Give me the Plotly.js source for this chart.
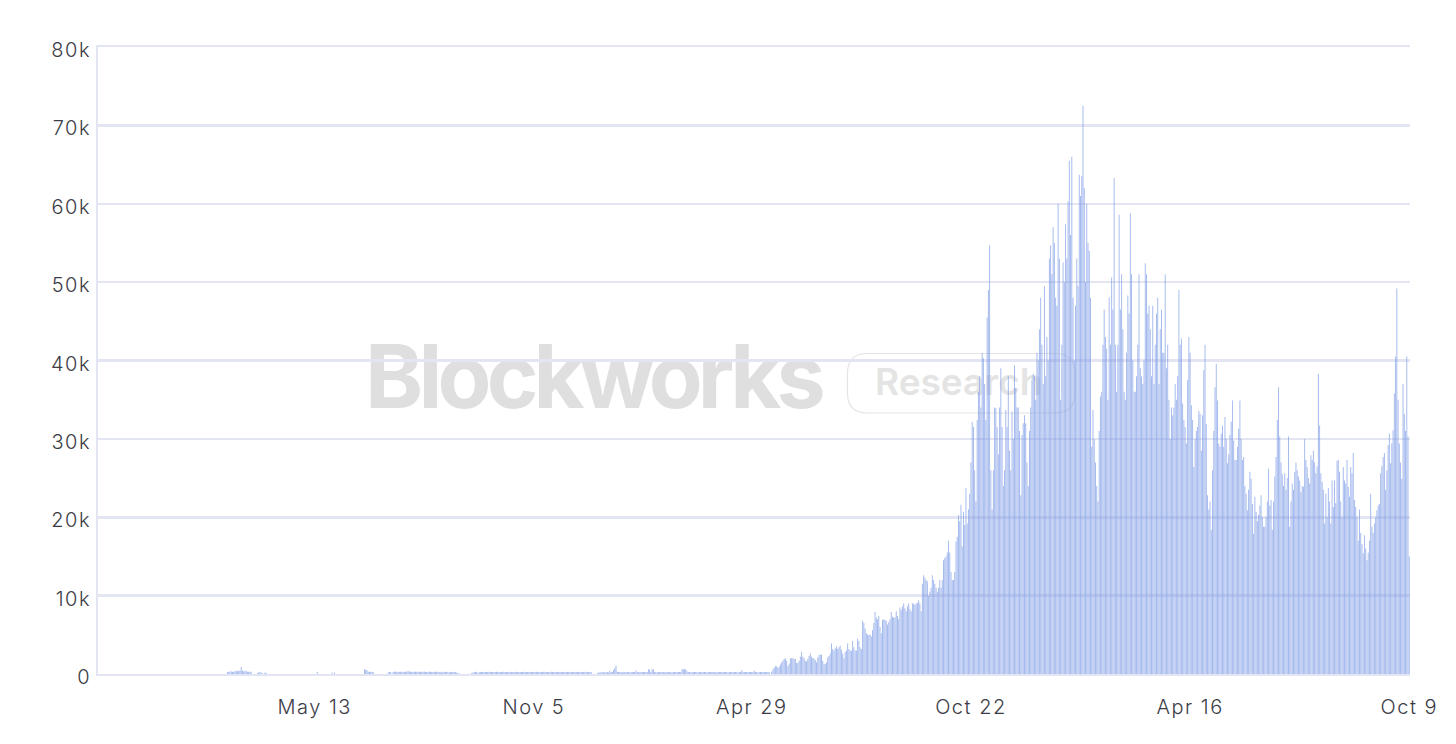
<!DOCTYPE html>
<html><head><meta charset="utf-8">
<style>
html,body{margin:0;padding:0;background:#fff;overflow:hidden}
#chart{width:1456px;height:744px}
.xtick text,.ytick text{letter-spacing:1.5px}
</style>
<script src="https://cdn.plot.ly/plotly-3.0.1.min.js"></script>
</head><body><div id="chart"></div>
<script>
// Daily values in thousands, each list begins on the date named beside it.
const early1Start='2021-03-04';
const early1=[.25,.3,.3,.35,.3,.3,.35,.4,.35,.4,.45,.9,.4,.35,.35,.4,.3,.3,.25,.3];
const early2Start='2021-03-28';
const early2=[.1,.2,.25,.2,.1,0,.15,.15];
const early3Start='2021-05-15';
const early3=[.25];
const early4Start='2021-05-27';
const early4=[.2,0,.2];
const early5Start='2021-06-22';
const early5=[.6,.55,.5,.3,.3,.3,.25,.25];
const early6Start='2021-07-11';
const early6=[.2,.25,.25,0,.25,.3,.3,.3,.25,.3,.3,.3,.25,.3,.3,.3,.4,.3,.3,.3,.25,.3,.3,.3,.3,.25,.3,.3,.25,.3,.3,.25,.25,.3,.3,.25,.25,.3,.25,.3,.3,.25,.2,.25,.3,.25,.25,.3,.25,.2,.25,.25,.3,.25,.25,.2,.1,.1];
const flat1Start='2021-09-16';
const flat1=[.1,.15,.25,.25,.3,.1,.25,.25,.25,.3,.25,.25,.25,.25,.3,.25,.25,.25,.25,.25,.3,.25,.25,.25,.25,.3,.25,.25,.25,.25,.25,.3,.25,.25,.25,.25,.3,.25,.25,.25,.25,.25,.3,.25,.25,.25,.25,.3,.25,.25,.25,.25,.25,.3,.25,.25,.25,.25,.3,.25,.25,.25,.25,.25,.3,.25,.25,.25,.25,.3,.25,.25,.25,.25,.25,.3,.25,.25,.25,.25,.3,.25,.25,.25,.25,.25,.3,.25,.25,.25,.25,.3,.25,.25,.25,.25,.25,0,0];
const flat2Start='2021-12-26';
const flat2=[.1,.2,.2,.25,.2,.25,.2,.25,.25,.2,.4,.25,.25,.5,.75,1.1,.3,.25,.25,.25,.25,.2,.25,.25,.25,.25,.2,.25,.25,.25,.25,.45,.25,.25,.2,.25,.25,.25,.25,.25,.25,.6,.55,.25,.6,.6,.25,.25,.2,.25,.25,.25,.25,.25,.2,.25,.25,.25,.25,.25,.2,.25,.25,.25,.25,.25,.25,.25,.6,.6,.6,.6,.35,.25,.25,.2,.25,.25,.25,.25,.25,.2,.25,.25,.25,.25,.25,.25,.2,.25,.25,.25,.25,.25,.25,.2,.25,.25,.25,.25,.25,.25,.25,.25,.25,.2,.25,.25,.25,.25,.25,.25,.25,.2,.25,.25,.5,.25,.25,.25,.25,.25,.25,.25,.25,.25,.4,.25,.25,.2,.25,.25,.25,.25,.25,.25,.25,.25,.25];
const rise1Start='2022-05-15';
const rise1=[.3,.6,.8,1,1,.8,.9,1.2,1.5,1.7,1.9,2,1.7,1,1.3,2,2,2,1.9,1.9,1.4,1.4,1.7,2.2,2.8,2.2,2,1.7,1.6,1.9,2.3,2.6,2.2,2,2,1.8,1.5,2.1,2.4,2.5,2.5,1.7,1.2,1.3,1.5,2.1,2.3,2.6,3.9,3.2,3,3.3,3.5,3.2,3.4,3.6,3.1,2.6,2,2.8,3,3.9,3.2,3,3,4.2,3.4,3,3,4.5,4.2,3.4,3.2,6.8,6.5,5.8,5.2,5,5,5,4.8,5.6,6.5,7.9,7.2,7,7.4,6,5.2,6.9,7,6.9,6.8,6.3,6.6,7,7.9,7.3,7.2,7.2,8,7.4,7];
const rise2Start='2022-08-26';
const rise2=[8.5,8.2,8.6,9,8.4,8,8.6,9,8.3,8,9,9,8.8,9,9.1,9.4,9,8,11.5,12.6,12.3,12,11.8,10,10.5,11,12.6,12,11.5,11,10.5,11,12,11,12,14.5,14.8,15,15.5,17,15.5,13,12,12,13,16.9,17.5,20.3,19.5,21.6,16.3,20.7,19,23.7,19.2,21,23];
const surge1Start='2022-10-22';
const surge1=[27,32.2,31.5,26,22,32.4,36,38,34,41,40.3,37,32.4,45.5,49,54.7,26,21,26,34,33.9,31.5,28,34,39,31.5,24,26,33.7,31.5,38,28.5,26,33.5,30,39.4,36.5,34,34,31,22.8,30.5,32,33,32,27,24,31,34,37.5,38.3,38,35,41,40,44];
const surge2Start='2022-12-17';
const surge2=[48,42,37,49.5,38,43,40,53,54.7,51,57,55,48,47,60,53,35,42,52.5,50,57.4,53,60.3,65.5,56,66,48,40,47,53,49.5,63.7,61,63.5,72.5,62,50,60,55,54,48,40];
const plateauStart='2023-01-27';
const plateau=[29,33.7,30,27,24,22,31,35.4,36,42,46.5,43,41.5,35,48,42,50.6,46.5,63.3,42,36,42,58.6,46.5,51,44,36,35,41,48.3,46,58.8,51,40,36,36,38,42,51,39,38,37,40,52.4,51,46,47,44,38,47,37,42,46,48,37,44,46.5,41,41,51,39,42,35,30,34,33,34,37,35,38,49,42];
const decayAStart='2023-04-09';
const decayA=[42.8,34.5,32.4,31.5,29.4,37.5,43,41,34.3,32.4,26.4,30,31,31.5,33.6,33.2,28.5,33,38.8,42,31.9,22.8,21,22,18.4,26,31,36.6,39.6,34.9,29.4,29,30.7,31.7,29,32.8,30,26.9,28,30.5,32.2,34.9,29.8,27.3,27.3,29,31.3,34.9,30];
const decayBStart='2023-05-28';
const decayB=[27.3,27.7,24,23,20.9,23.5,25.8,24.9,21.7,17.9,22.6,20.7,19.5,20.3,21.5,22.8,20,18.8,18.8,20,22,26.2,21.5,22.2,18.4,22,25.2,27.7,32.4,36.6,30.3,27,25.5,24,25.6,23.5,25,30.3];
const decayCStart='2023-07-05';
const decayC=[18.8,22,24.3,23.5,25.8,27,26,25.2,24.7,23.2,24,23.9,30,27.3,26.4,25,24.3,27.9,27.3,28.5,27,25.6,26.5,38.3];
const decayDStart='2023-07-29';
const decayD=[31.7,25.6,24.5,23.5,19.2,23,20,23.7,22,19.2,24.7,21.3,24.7,21.8,27.2,27.3,25.8,22,20,26.4,24.7,24.3,27.3,23.9,22.6,26.4,25.6,28.2,22.2,21.3,20,17,21,18,16.6,15.4,17.7,16,14.5,15.5];
const decayEStart='2023-09-07';
const decayE=[17,23,18.8,18,19.2,20,20.9,21.5,21.7,25.6,26.5,27.7,28.2,23.5,26,29.2,30.7,26.9,29.4,31.1,35.8,40.5,49.2,35,29.4,27,24.9,37,33.2,31,40.5,30.3,15];

const xTickVals=['2021-05-13','2021-11-05','2022-04-29','2022-10-22','2023-04-16','2023-10-09'];
const xTickText=['May 13','Nov 5','Apr 29','Oct 22','Apr 16','Oct 9'];
const yTickVals=[0,10000,20000,30000,40000,50000,60000,70000,80000];
const yTickText=['0','10k','20k','30k','40k','50k','60k','70k','80k'];

const segments=[[early1Start,early1],[early2Start,early2],[early3Start,early3],[early4Start,early4],[early5Start,early5],[early6Start,early6],[flat1Start,flat1],[flat2Start,flat2],[rise1Start,rise1],[rise2Start,rise2],[surge1Start,surge1],[surge2Start,surge2],[plateauStart,plateau],[decayAStart,decayA],[decayBStart,decayB],[decayCStart,decayC],[decayDStart,decayD],[decayEStart,decayE]];
const byDay=new Map();
segments.forEach(([start,vals])=>{
  const t0=Date.parse(start+'T00:00:00Z');
  vals.forEach((v,i)=>byDay.set(new Date(t0+i*864e5).toISOString().slice(0,10),v*1000));
});
const xs=[...byDay.keys()].sort();
const ys=xs.map(d=>byDay.get(d));

const W=1456,H=744,L=98,R=1410,T=47,B=674;
const gridColor='#e3e5f2';
const tickFont={family:'Inter, "Open Sans", sans-serif',size:20,color:'#3b3c46',weight:300};
const px=x=>(x-L)/(R-L), py=y=>(B-y)/(B-T);
const roundRect=(x0,y0,x1,y1,r)=>`M ${px(x0+r)} ${py(y0)} L ${px(x1-r)} ${py(y0)} Q ${px(x1)} ${py(y0)} ${px(x1)} ${py(y0+r)} L ${px(x1)} ${py(y1-r)} Q ${px(x1)} ${py(y1)} ${px(x1-r)} ${py(y1)} L ${px(x0+r)} ${py(y1)} Q ${px(x0)} ${py(y1)} ${px(x0)} ${py(y1-r)} L ${px(x0)} ${py(y0+r)} Q ${px(x0)} ${py(y0)} ${px(x0+r)} ${py(y0)} Z`;

Plotly.newPlot('chart',[{
  type:'bar',x:xs,y:ys,
  marker:{color:'rgba(125,155,230,0.72)',line:{width:0}},
  hoverinfo:'skip'
}],{
  width:W,height:H,
  margin:{l:L,r:W-R,t:T,b:H-B,pad:0},
  paper_bgcolor:'#fff',plot_bgcolor:'#fff',
  showlegend:false,bargap:0.25,
  xaxis:{type:'date',range:['2020-11-20','2023-10-09 14:00'],
    tickmode:'array',tickvals:xTickVals,ticktext:xTickText,
    showgrid:false,zeroline:false,showline:true,mirror:true,linecolor:gridColor,linewidth:2,
    ticks:'outside',ticklen:14,tickwidth:1,tickcolor:'rgba(0,0,0,0)',
    tickfont:tickFont,tickangle:0},
  yaxis:{range:[0,80000],tickmode:'array',tickvals:yTickVals,ticktext:yTickText,
    showgrid:true,gridcolor:gridColor,gridwidth:2.5,zeroline:false,
    showline:true,linecolor:gridColor,linewidth:2,
    ticks:'outside',ticklen:1,tickwidth:1,tickcolor:'rgba(0,0,0,0)',ticklabelshift:3,
    tickfont:tickFont},
  shapes:[{type:'path',xref:'paper',yref:'paper',layer:'below',
    path:roundRect(847.5,353.5,1075,413,20),
    line:{color:'#e4e4e4',width:1.2},fillcolor:'rgba(0,0,0,0)'}],
  annotations:[
    {xref:'paper',yref:'paper',x:px(593),y:py(376),xanchor:'center',yanchor:'middle',showarrow:false,
     text:'Blockworks',font:{family:'Inter, sans-serif',size:88,color:'#dfdfdf',weight:700}},
    {xref:'paper',yref:'paper',x:px(958),y:py(381),xanchor:'center',yanchor:'middle',showarrow:false,
     text:'Research',font:{family:'Inter, sans-serif',size:37,color:'#e4e4e4',weight:600}}
  ],
  hovermode:false
},{displayModeBar:false,staticPlot:true}).then(gd=>{
  const below=gd.querySelector('.layer-below');
  const anns=gd.querySelectorAll('.annotation');
  anns.forEach((a,i)=>{
    const t=a.querySelector('text');
    if(t) t.style.letterSpacing=i===0?'-4.8px':'0px';
    below.appendChild(a);
  });
});
</script></body></html>
